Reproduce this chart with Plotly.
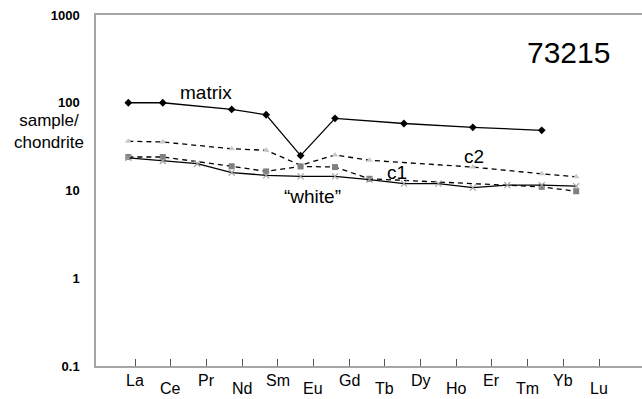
import plotly.graph_objects as go

# ---- data ----
elements = ["La", "Ce", "Pr", "Nd", "Sm", "Eu", "Gd", "Tb", "Dy", "Ho", "Er", "Tm", "Yb", "Lu"]
matrix = [100, 100, None, 84, 73, 25, 66.5, None, 58, None, 52.5, None, 48.5, None]
c2 = [36.4, 35.7, None, 29.9, 28.7, 19.4, 25.4, 22.1, None, None, 18.5, None, 15.5, 14.3]
c1 = [24.1, 24.1, None, 18.9, 16.5, 18.8, 18.5, 13.6, None, None, None, None, 11.0, 9.8]
white = [23.5, 21.7, 20.2, 16.0, 14.9, 14.5, 14.5, 13.3, 12.0, 12.0, 10.8, 11.5, 11.5, 11.2]
y_tick_values = [0.1, 1, 10, 100, 1000]
y_tick_labels = ["0.1", "1", "10", "100", "1000"]

FONT = "Arial, Liberation Sans, sans-serif"
x_idx = list(range(len(elements)))
TICK0, TICK_STEP = 0.194, 1.036
tick_pos = [TICK0 + TICK_STEP * i for i in x_idx]

W, H = 642, 399
L, R, T, B = 96, 0, 15, 33
pw, ph = W - L - R, H - T - B

fig = go.Figure()

def add(vals, name, dash, msym, mcol, msize, mline=None):
    marker = dict(symbol=msym, color=mcol, size=msize)
    if mline:
        marker["line"] = mline
    fig.add_trace(go.Scatter(
        x=x_idx, y=vals, name=name, mode="lines+markers", connectgaps=True,
        line=dict(color="black", width=1.3, dash=dash),
        marker=marker, showlegend=False, hoverinfo="skip"))

add(c2, "c2", "5px,4px", "triangle-up", "#c8c8c8", 6)
add(c1, "c1", "5px,4px", "square", "#808080", 6)
add(white, "white", "solid", "x-thin", "#a0a0a0", 6, dict(color="#a0a0a0", width=1.2))
add(matrix, "matrix", "solid", "diamond", "black", 6)

fig.update_layout(
    width=W, height=H,
    margin=dict(l=L, r=R, t=T, b=B),
    paper_bgcolor="white", plot_bgcolor="white",
    font=dict(family=FONT, color="black"),
    xaxis=dict(range=[-0.938, 14.91], showgrid=False, zeroline=False,
               showline=True, linecolor="#a6a6a6", linewidth=1.5, mirror=True,
               ticks="inside", ticklen=7, tickcolor="#555555", tickwidth=1,
               tickvals=tick_pos, showticklabels=False),
    yaxis=dict(type="log", range=[-1, 3], showgrid=False, zeroline=False,
               showline=True, linecolor="#a6a6a6", linewidth=1.5,
               ticks="", tickvals=y_tick_values, ticktext=y_tick_labels,
               ticklabelstandoff=12,
               tickfont=dict(family=FONT, size=13, color="black", weight="bold")),
)

ann = []
for i, (p, lab) in enumerate(zip(tick_pos, elements)):
    ann.append(dict(x=p, y=0, xref="x", yref="paper", text=lab, showarrow=False,
                    yanchor="middle", yshift=-14 if i % 2 == 0 else -22,
                    font=dict(family=FONT, size=16)))

def lbl(text, px, py, size):
    # px, py: centre in figure pixels; converted to plot-area paper coords
    ann.append(dict(x=(px - L) / pw, y=1 - (py - T) / ph, xref="paper", yref="paper",
                    text=text, showarrow=False, xanchor="center", yanchor="middle",
                    font=dict(family=FONT, size=size)))

lbl("sample/<br>chondrite", 49, 132, 17)
lbl("matrix", 206, 92, 19)
lbl("\u201cwhite\u201d", 312, 196, 19)
lbl("c1", 397, 172, 19)
lbl("c2", 474, 156, 19)
lbl("73215", 568, 52, 30)

fig.update_layout(annotations=ann)
fig.write_html("out.html", config={"displayModeBar": False},
               post_script="document.body.style.margin='0px';document.body.style.padding='0px';")
